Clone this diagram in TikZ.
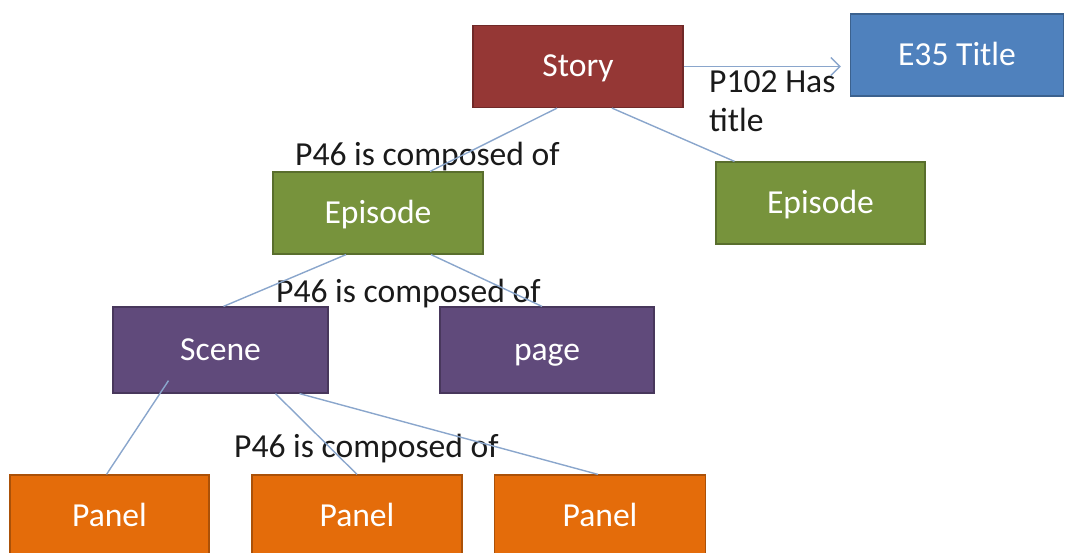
\documentclass[tikz,border=0pt]{standalone}
\usepackage{fontspec}
\setmainfont{Carlito}
\usetikzlibrary{arrows.meta}
\definecolor{storyred}{HTML}{953735}
\definecolor{titleblue}{HTML}{4F81BD}
\definecolor{epgreen}{HTML}{77933C}
\definecolor{scenepurple}{HTML}{604A7B}
\definecolor{panelorange}{HTML}{E46C0A}
\definecolor{linkblue}{HTML}{8AA6CC}
\definecolor{lbltext}{HTML}{1A1A1A}

\begin{document}
\begin{tikzpicture}[x=1pt,y=-1pt,
    every node/.style={font=\fontsize{33.6}{39}\selectfont},
    box/.style={draw=#1!75!black,fill=#1,line width=1.2pt,text=white,
      minimum width=210pt,minimum height=82pt,inner sep=0pt,
      text height=24pt,text depth=4pt},
    link/.style={draw=linkblue,line width=1.4pt},
    lbl/.style={anchor=base west,inner sep=0pt,text=lbltext}]
    \useasboundingbox (0,0) rectangle (1078,552);
    \clip (0,0) rectangle (1078,552);
    \node[box=storyred] (story) at (578,66.5) {Story};
    \node[box=titleblue,minimum width=213pt] (title) at (957,55) {E35 Title};
    \node[box=epgreen] (ep1) at (378,213) {Episode};
    \node[box=epgreen,minimum width=209pt] (ep2) at (820.5,203) {Episode};
    \node[box=scenepurple,minimum width=215pt,minimum height=86pt] (scene) at (220.5,350) {Scene};
    \node[box=scenepurple,minimum width=214pt,minimum height=86pt] (page) at (547,350) {page};
    \node[box=panelorange,minimum width=199pt] (panel1) at (109.5,516) {Panel};
    \node[box=panelorange] (panel2) at (357,516) {Panel};
    \node[box=panelorange,minimum width=211pt] (panel3) at (600,516) {Panel};
    \node[anchor=north west,inner sep=0pt,align=left,text=lbltext] (hastitle) at (709,70) {P102 Has\\title};
    \node[lbl] (comp1) at (295,165) {P46 is composed of};
    \node[lbl] (comp2) at (276,302) {P46 is composed of};
    \node[lbl] (comp3) at (234,457) {P46 is composed of};
    \draw[link,-{Straight Barb[length=9pt,width=18pt]},shorten >=9pt] (story.east) -- (story.east -| title.west);
    \draw[link] ([xshift=-21pt]story.south) -- ([xshift=52pt]ep1.north);
    \draw[link] ([xshift=34pt]story.south) -- ([xshift=-86pt]ep2.north);
    \draw[link] ([xshift=-32pt]ep1.south) -- ([xshift=3pt]scene.north);
    \draw[link] ([xshift=53pt]ep1.south) -- ([xshift=-5pt]page.north);
    \draw[link] ([xshift=-52pt,yshift=13pt]scene.south) -- ([xshift=-3pt]panel1.north);
    \draw[link] ([xshift=55pt]scene.south) -- (panel2.north);
    \draw[link] ([xshift=79pt]scene.south) -- ([xshift=-2pt]panel3.north);
\end{tikzpicture}
\end{document}
